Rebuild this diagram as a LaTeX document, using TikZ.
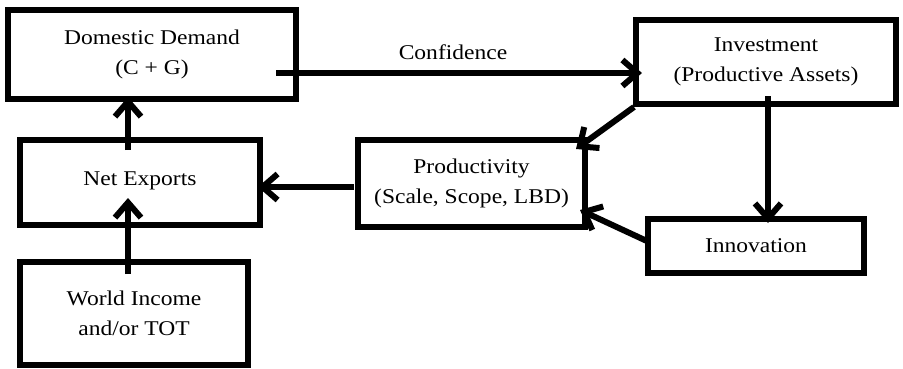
\documentclass[tikz,border=0pt]{standalone}
\usepackage{fontspec}
\setmainfont[FakeStretch=1.12]{Liberation Serif}
\usetikzlibrary{arrows.meta,calc}
\begin{document}
\begin{tikzpicture}[x=1pt,y=-1pt,
  box/.style={draw,line width=6pt,inner sep=0pt,align=center,font=\fontsize{21}{30}\selectfont},
  lbl/.style={inner sep=0pt,font=\fontsize{21}{30}\selectfont},
  conn/.style={line width=6pt,-{Straight Barb[length=15pt,width=26pt]}}]
\useasboundingbox (0,0) rectangle (903,368);
\node[box,minimum width=288pt,minimum height=89pt] (dd) at (152,54.5) {Domestic Demand\\(C + G)};
\node[box,minimum width=260pt,minimum height=84pt] (inv) at (766,62) {Investment\\(Productive Assets)};
\node[box,minimum width=227pt,minimum height=87pt] (prod) at (471.5,183.5) {Productivity\\(Scale, Scope, LBD)};
\node[box,minimum width=240pt,minimum height=85pt] (ne) at (140,182.5) {\raisebox{7pt}{Net Exports}};
\node[box,minimum width=216pt,minimum height=54pt] (inn) at (756,246) {Innovation};
\node[box,minimum width=228pt,minimum height=103pt] (wi) at (134,313.5) {World Income\\and/or TOT};
\node[lbl] (conf) at (453,52) {Confidence};
\draw[conn] ($(dd.east)+(-23,18.5)$) -- ($(inv.west)+(9,11)$);
\draw[conn] ($(ne.north)+(-12,13)$) -- ($(dd.south)+(-24,-5)$);
\draw[conn] ($(wi.north)+(-6,15)$) -- ($(ne.center)+(-12,15.5)$);
\draw[conn] ($(prod.west)+(-1,3.5)$) -- ($(ne.east)+(-5,4.5)$);
\draw[conn] ($(inv.south west)+(1,0)$) -- ($(prod.north east)+(-12,12)$);
\draw[conn] ($(inv.south)+(2,-11)$) -- ($(inn.north)+(12,7)$);
\draw[conn] ($(inn.west)+(4,-4)$) -- ($(prod.south east)+(-8,-20)$);
\end{tikzpicture}
\end{document}
